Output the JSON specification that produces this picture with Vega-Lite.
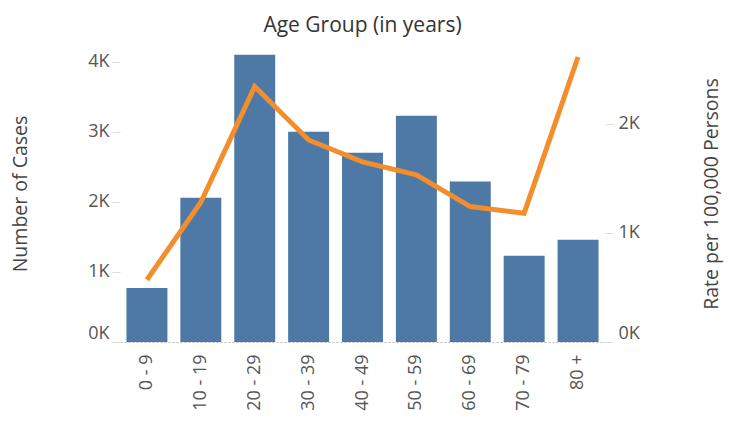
{
  "$schema": "https://vega.github.io/schema/vega-lite/v6.json",
  "width": 485,
  "height": 297,
  "autosize": {"type": "none"},
  "padding": {"left": 120, "top": 45, "right": 124, "bottom": 83},
  "background": "white",
  "title": {"text": "Age Group (in years)", "fontSize": 21, "font": "Open Sans", "fontWeight": "normal", "color": "#333333", "offset": 9, "anchor": "middle"},
  "data": {"values": [
    {"age": "0 - 9", "cases": 770, "rate": 570},
    {"age": "10 - 19", "cases": 2060, "rate": 1280},
    {"age": "20 - 29", "cases": 4100, "rate": 2340},
    {"age": "30 - 39", "cases": 3000, "rate": 1850},
    {"age": "40 - 49", "cases": 2700, "rate": 1650},
    {"age": "50 - 59", "cases": 3230, "rate": 1530},
    {"age": "60 - 69", "cases": 2290, "rate": 1240},
    {"age": "70 - 79", "cases": 1230, "rate": 1180},
    {"age": "80 +", "cases": 1460, "rate": 2610}
  ]},
  "encoding": {
    "x": {"field": "age", "type": "ordinal", "sort": null, "scale": {"paddingInner": 0.24},
      "axis": {"title": null, "labelAngle": 270, "labelPadding": 12, "ticks": false, "domainColor": "#bbbbbb", "domainDash": [2, 2], "domainWidth": 1, "labelFontSize": 18}}
  },
  "layer": [
    {
      "mark": {"type": "bar", "color": "#4e79a7"},
      "encoding": {
        "y": {"field": "cases", "type": "quantitative", "scale": {"domain": [0, 4240], "nice": false},
          "axis": {"title": "Number of Cases", "values": [0, 1000, 2000, 3000, 4000], "labelExpr": "datum.value/1000 + 'K'", "grid": false, "domain": false, "tickSize": 8, "tickOffset": 0, "tickColor": "#dddddd", "labelPadding": 3, "labelFlush": true, "titleAngle": 270, "titlePadding": 57, "labelFontSize": 18, "titleFontSize": 19.5}}
      }
    },
    {
      "mark": {"type": "line", "color": "#f28e2b", "strokeWidth": 5},
      "encoding": {
        "y": {"field": "rate", "type": "quantitative", "scale": {"domain": [0, 2720], "nice": false},
          "axis": {"orient": "right", "title": "Rate per 100,000 Persons", "values": [0, 1000, 2000], "labelExpr": "datum.value/1000 + 'K'", "grid": false, "domain": false, "tickSize": 8, "tickColor": "#dddddd", "labelPadding": 5, "labelFlush": true, "titleAngle": 270, "titlePadding": 82, "labelFontSize": 18, "titleFontSize": 19.5}}
      }
    }
  ],
  "resolve": {"scale": {"y": "independent"}},
  "config": {
    "view": {"stroke": null},
    "axis": {"labelFont": "Open Sans", "titleFont": "Open Sans", "labelColor": "#555555", "titleColor": "#444444", "titleFontWeight": "normal"}
  }
}
